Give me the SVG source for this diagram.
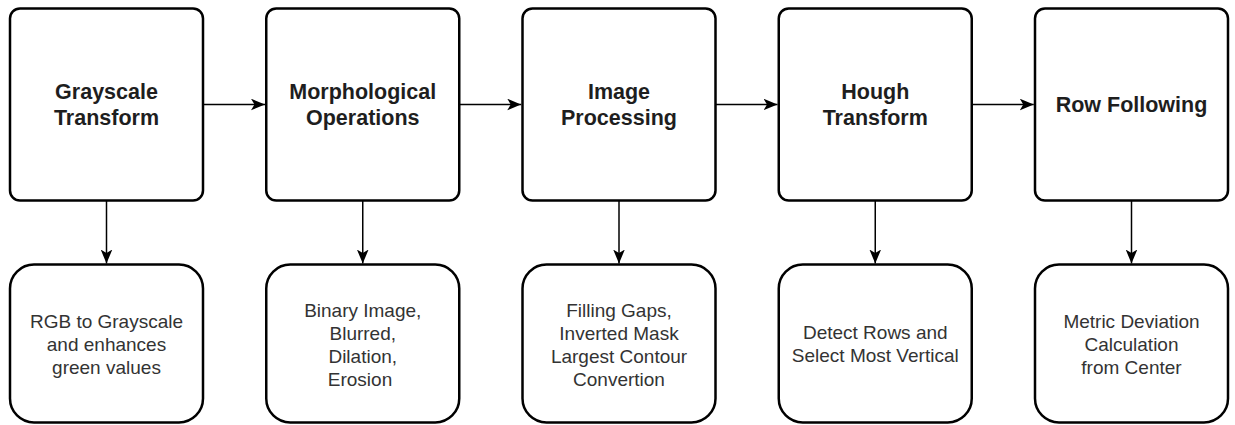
<svg xmlns="http://www.w3.org/2000/svg" width="1235" height="425" viewBox="0 0 1235 425">
  <defs>
    <marker id="arrow" markerUnits="userSpaceOnUse" markerWidth="14" markerHeight="12" refX="12" refY="5" orient="auto" viewBox="0 0 12 10">
      <path d="M0,0 L12,5 L0,10 L3,5 z" fill="#000"/>
    </marker>
  </defs>
  <style>
    .stage { fill: #fff; stroke: #000; stroke-width: 2.5; }
    .detail { fill: #fff; stroke: #000; stroke-width: 2.5; }
    .title { font-family: "Liberation Sans", Arial, sans-serif; font-weight: bold; font-size: 21.5px; fill: #1e1e1e; text-anchor: middle; }
    .desc { font-family: "Liberation Sans", Arial, sans-serif; font-size: 19px; fill: #333; text-anchor: middle; }
    .link { fill: none; stroke: #000; stroke-width: 1.5; marker-end: url(#arrow); }
  </style>
  <rect width="1235" height="425" fill="#fff"/>

  <!-- pipeline stages -->
  <g id="grayscale-transform">
    <rect class="stage" x="10" y="8.5" width="193" height="192" rx="10"/>
    <text class="title" x="106.5" y="99">Grayscale</text>
    <text class="title" x="106.5" y="125">Transform</text>
  </g>
  <g id="morphological-operations">
    <rect class="stage" x="266.25" y="8.5" width="193" height="192" rx="10"/>
    <text class="title" x="362.75" y="99">Morphological</text>
    <text class="title" x="362.75" y="125">Operations</text>
  </g>
  <g id="image-processing">
    <rect class="stage" x="522.5" y="8.5" width="193" height="192" rx="10"/>
    <text class="title" x="619" y="99">Image</text>
    <text class="title" x="619" y="125">Processing</text>
  </g>
  <g id="hough-transform">
    <rect class="stage" x="778.75" y="8.5" width="193" height="192" rx="10"/>
    <text class="title" x="875.25" y="99">Hough</text>
    <text class="title" x="875.25" y="125">Transform</text>
  </g>
  <g id="row-following">
    <rect class="stage" x="1035" y="8.5" width="193" height="192" rx="10"/>
    <text class="title" x="1131.5" y="112">Row Following</text>
  </g>

  <!-- stage descriptions -->
  <g id="grayscale-detail">
    <rect class="detail" x="10" y="264.5" width="193" height="158" rx="24"/>
    <text class="desc" x="106.5" y="328">RGB to Grayscale</text>
    <text class="desc" x="106.5" y="351">and enhances</text>
    <text class="desc" x="106.5" y="374">green values</text>
  </g>
  <g id="morphological-detail">
    <rect class="detail" x="266.25" y="264.5" width="193" height="158" rx="24"/>
    <text class="desc" x="362.75" y="317">Binary Image,</text>
    <text class="desc" x="362.75" y="340">Blurred,</text>
    <text class="desc" x="362.75" y="363">Dilation,</text>
    <text class="desc" x="360" y="386">Erosion</text>
  </g>
  <g id="processing-detail">
    <rect class="detail" x="522.5" y="264.5" width="193" height="158" rx="24"/>
    <text class="desc" x="619" y="317">Filling Gaps,</text>
    <text class="desc" x="619" y="340">Inverted Mask</text>
    <text class="desc" x="619" y="363">Largest Contour</text>
    <text class="desc" x="619" y="386">Convertion</text>
  </g>
  <g id="hough-detail">
    <rect class="detail" x="778.75" y="264.5" width="193" height="158" rx="24"/>
    <text class="desc" x="875.25" y="339">Detect Rows and</text>
    <text class="desc" x="875.25" y="362">Select Most Vertical</text>
  </g>
  <g id="row-following-detail">
    <rect class="detail" x="1035" y="264.5" width="193" height="158" rx="24"/>
    <text class="desc" x="1131.5" y="328">Metric Deviation</text>
    <text class="desc" x="1131.5" y="351">Calculation</text>
    <text class="desc" x="1131.5" y="374">from Center</text>
  </g>

  <!-- connectors -->
  <g id="connectors">
    <line class="link" x1="203" y1="104.5" x2="265" y2="104.5"/>
    <line class="link" x1="459.25" y1="104.5" x2="521.25" y2="104.5"/>
    <line class="link" x1="715.5" y1="104.5" x2="777.5" y2="104.5"/>
    <line class="link" x1="971.75" y1="104.5" x2="1033.75" y2="104.5"/>
    <line class="link" x1="106.5" y1="200.5" x2="106.5" y2="263.5"/>
    <line class="link" x1="362.75" y1="200.5" x2="362.75" y2="263.5"/>
    <line class="link" x1="619" y1="200.5" x2="619" y2="263.5"/>
    <line class="link" x1="875.25" y1="200.5" x2="875.25" y2="263.5"/>
    <line class="link" x1="1131.5" y1="200.5" x2="1131.5" y2="263.5"/>
  </g>
</svg>
